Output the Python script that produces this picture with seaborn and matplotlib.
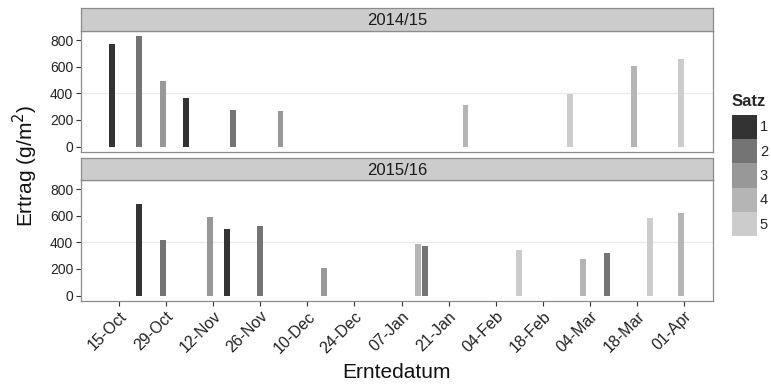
import matplotlib
matplotlib.use("Agg")
import matplotlib.pyplot as plt
import matplotlib.dates as mdates
from matplotlib.patches import Patch
import seaborn as sns
import pandas as pd
import numpy as np

# ---- data ----
seasons = ["2014/15", "2015/16"]
satz_levels = ["1", "2", "3", "4", "5"]
satz_colors = ["#333333", "#747474", "#989898", "#B5B5B5", "#CCCCCC"]

dates_1415 = ["10-13", "10-21", "10-28", "11-04", "11-18", "12-02",
              "01-26", "02-26", "03-17", "03-31"]
ertrag_1415 = [770, 830, 495, 365, 273, 265, 310, 395, 605, 658]
satz_1415 = ["1", "2", "3", "1", "2", "3", "4", "5", "4", "5"]

dates_1516 = ["10-21", "10-28", "11-11", "11-16", "11-26", "12-15", "01-12",
              "01-14", "02-11", "03-02", "03-09", "03-22", "03-31"]
ertrag_1516 = [689, 416, 592, 499, 521, 210, 386, 371, 343, 278, 318, 584, 619]
satz_1516 = ["1", "2", "3", "1", "2", "3", "4", "2", "5", "4", "2", "5", "4"]

tick_labels = ["15-Oct", "29-Oct", "12-Nov", "26-Nov", "10-Dec", "24-Dec",
               "07-Jan", "21-Jan", "04-Feb", "18-Feb", "04-Mar", "18-Mar", "01-Apr"]


def md_to_num(md):
    m = int(md.split("-")[0])
    year = 2014 if m >= 9 else 2015
    return mdates.date2num(pd.Timestamp(f"{year}-{md}"))


def make_df(dates, vals, satz, season):
    return pd.DataFrame({"x": [md_to_num(d) for d in dates], "Ertrag": vals,
                         "Satz": satz, "Saison": season})


frames = [make_df(dates_1415, ertrag_1415, satz_1415, seasons[0]),
          make_df(dates_1516, ertrag_1516, satz_1516, seasons[1])]

tick_pos = [mdates.date2num(pd.to_datetime(t + ("-2014" if t[3:] in ("Oct", "Nov", "Dec") else "-2015"),
                                           format="%d-%b-%Y")) for t in tick_labels]

# ---- style ----
sns.set_theme(style="white")
plt.rcParams["font.family"] = ["Liberation Sans", "DejaVu Sans"]

W, H = 771, 385
fig = plt.figure(figsize=(W / 100, H / 100), dpi=100)
palette = dict(zip(satz_levels, satz_colors))

left = 81 / W
width = (713 - 81) / W
panels = [(31, 152, 8), (180, 301, 158)]  # (panel top, panel bottom, strip top) px
bar_days = 1.75
x0 = tick_pos[0] - 11.3
x1 = tick_pos[-1] + 8.6
border = "#8c8c8c"

axes = []
for i, (ptop, pbot, stop) in enumerate(panels):
    ax = fig.add_axes([left, 1 - pbot / H, width, (pbot - ptop) / H])
    sax = fig.add_axes([left, 1 - ptop / H, width, (ptop - stop) / H])
    df = frames[i]
    sns.barplot(data=df, x="x", y="Ertrag", hue="Satz", hue_order=satz_levels,
                palette=palette, native_scale=True, dodge=False, errorbar=None,
                saturation=1, legend=False, ax=ax, zorder=3)
    for p in ax.patches:
        c = p.get_x() + p.get_width() / 2
        p.set_width(bar_days)
        p.set_x(c - bar_days / 2)
        p.set_edgecolor("none")
    ax.set_xlim(x0, x1)
    ax.set_ylim(-41.5, 871.5)
    ax.set_yticks([0, 200, 400, 600, 800])
    ax.set_yticklabels(["0", "200", "400", "600", "800"], fontsize=10, color="#222222")
    ax.axhline(400, color="#eaeaea", lw=0.9, zorder=0)
    ax.set_xticks(tick_pos)
    ax.set_xlabel("")
    ax.set_ylabel("")
    ax.tick_params(axis="y", length=3.5, width=0.8, color="#333333", pad=2, left=True)
    for s in ax.spines.values():
        s.set_color(border)
        s.set_linewidth(0.9)
    if i == 0:
        ax.tick_params(axis="x", bottom=False, labelbottom=False)
    else:
        ax.set_xticklabels(tick_labels, rotation=45, ha="right", rotation_mode="anchor",
                           fontsize=11.5, color="#222222")
        ax.tick_params(axis="x", length=3.5, width=0.8, color="#333333", pad=2, bottom=True)
    sax.set_facecolor("#cccccc")
    sax.set_xticks([])
    sax.set_yticks([])
    for s in sax.spines.values():
        s.set_color(border)
        s.set_linewidth(0.9)
    sax.text(0.5, 0.45, seasons[i], ha="center", va="center", fontsize=12,
             color="#1a1a1a", transform=sax.transAxes)
    axes.append(ax)

fig.text(0.033, 1 - 166 / H, "Ertrag (g/m$^2$)", rotation=90, ha="center", va="center",
         fontsize=15, color="#111111")
fig.text(left + width / 2, 1 - 372 / H, "Erntedatum", ha="center", va="center",
         fontsize=15, color="#111111")

handles = [Patch(facecolor=c, edgecolor="none") for c in satz_colors]
leg = fig.legend(handles, satz_levels, loc="upper left", bbox_to_anchor=(732 / W, 1 - 94 / H),
                 frameon=False, title="Satz", fontsize=10.5, handlelength=1.715,
                 handleheight=2.19, labelspacing=0, handletextpad=0.2, borderpad=0,
                 borderaxespad=0, alignment="left",
                 title_fontproperties={"weight": "bold", "size": 12})
leg._legend_box.sep = 4

fig.savefig("out.png", dpi=100)
